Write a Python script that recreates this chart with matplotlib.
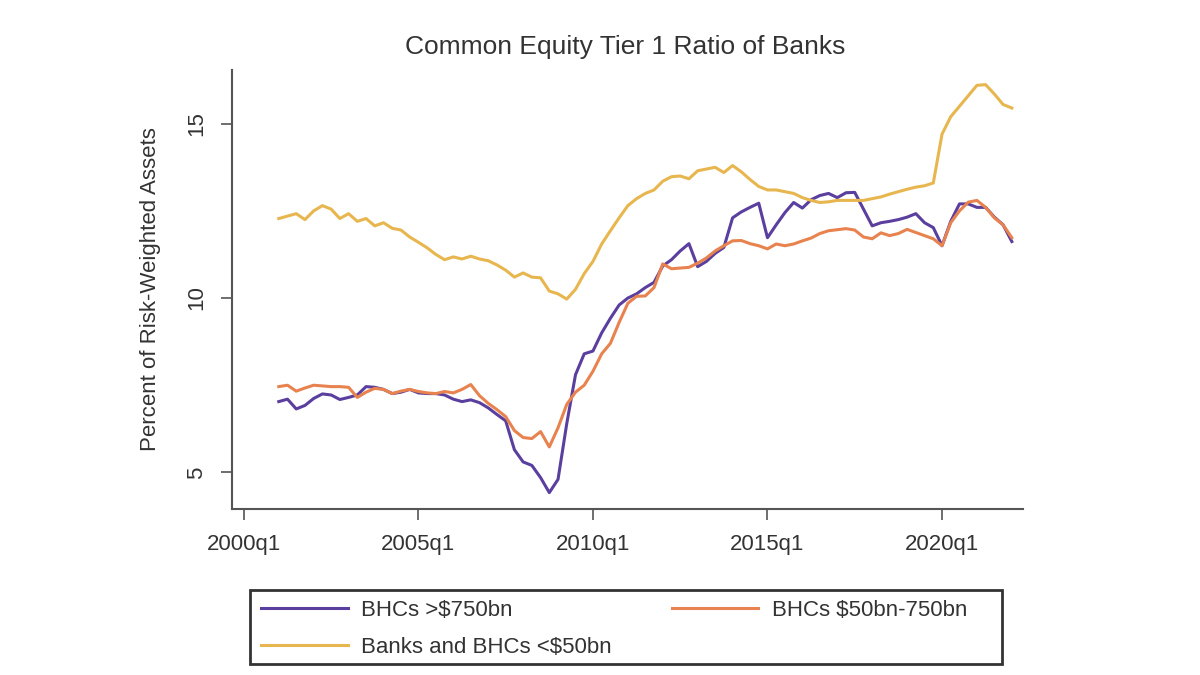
import matplotlib
matplotlib.use('Agg')
import matplotlib.pyplot as plt
from matplotlib.patches import Rectangle
import numpy as np

# quarterly, 2001q1 .. 2022q1
start_year = 2001

big_bhcs = [
    7.03, 7.10, 6.82, 6.92,  7.12, 7.25, 7.22, 7.09,  7.15, 7.22, 7.46, 7.44,
    7.38, 7.26, 7.30, 7.38,  7.28, 7.26, 7.26, 7.22,  7.10, 7.03, 7.08, 7.00,
    6.85, 6.66, 6.48, 5.65,  5.30, 5.20, 4.85, 4.42,  4.80, 6.40, 7.80, 8.40,
    8.48, 9.00, 9.42, 9.80,  10.00, 10.12, 10.30, 10.45,  10.92, 11.10, 11.35, 11.56,
    10.90, 11.05, 11.28, 11.45,  12.30, 12.47, 12.60, 12.72,  11.73, 12.10, 12.45, 12.74,
    12.58, 12.82, 12.94, 13.00,  12.88, 13.02, 13.03, 12.55,  12.07, 12.16, 12.20, 12.25,
    12.32, 12.42, 12.16, 12.02,  11.50, 12.20, 12.70, 12.70,  12.60, 12.60, 12.32, 12.10,
    11.62,
]

mid_bhcs = [
    7.46, 7.50, 7.33, 7.42,  7.50, 7.48, 7.46, 7.46,  7.44, 7.15, 7.30, 7.41,
    7.38, 7.26, 7.33, 7.38,  7.32, 7.28, 7.26, 7.32,  7.28, 7.38, 7.52, 7.20,
    6.98, 6.80, 6.60, 6.20,  6.00, 5.97, 6.17, 5.73,  6.28, 6.95, 7.30, 7.50,
    7.90, 8.40, 8.70, 9.30,  9.85, 10.05, 10.06, 10.30,  10.98, 10.84, 10.86, 10.88,
    11.00, 11.15, 11.35, 11.50,  11.64, 11.65, 11.56, 11.50,  11.41, 11.55, 11.50, 11.55,
    11.64, 11.72, 11.85, 11.93,  11.96, 11.99, 11.95, 11.75,  11.70, 11.87, 11.79, 11.85,
    11.97, 11.88, 11.79, 11.70,  11.50, 12.16, 12.50, 12.75,  12.80, 12.60, 12.30, 12.10,
    11.73,
]

small_banks = [
    12.28, 12.35, 12.42, 12.25,  12.50, 12.65, 12.55, 12.28,  12.42, 12.20, 12.28, 12.07,
    12.16, 12.00, 11.95, 11.75,  11.60, 11.44, 11.25, 11.10,  11.18, 11.12, 11.20, 11.12,
    11.07, 10.95, 10.80, 10.60,  10.72, 10.60, 10.58, 10.20,  10.12, 9.97, 10.25, 10.70,
    11.05, 11.55, 11.93, 12.30,  12.65, 12.85, 13.00, 13.10,  13.35, 13.48, 13.50, 13.42,
    13.65, 13.70, 13.75, 13.60,  13.80, 13.62, 13.40, 13.20,  13.10, 13.10, 13.05, 13.00,
    12.88, 12.80, 12.74, 12.76,  12.80, 12.80, 12.80, 12.80,  12.85, 12.90, 12.98, 13.05,
    13.12, 13.18, 13.22, 13.30,  14.70, 15.20, 15.50, 15.80,  16.10, 16.12, 15.85, 15.55,
    15.45,
]

labels = ['BHCs >$750bn', 'BHCs $50bn-750bn', 'Banks and BHCs <$50bn']
colors = ['#5b3f9e', '#e8834f', '#e8b64e']

tick_years = [2000, 2005, 2010, 2015, 2020]
tick_labels = [f"{y}q1" for y in tick_years]

plt.rcParams['font.family'] = ['Liberation Sans', 'DejaVu Sans']
text_col = '#333333'

fig = plt.figure(figsize=(12, 6.75), dpi=100)
ax = fig.add_axes([232/1200, 1 - 509/675, (1023 - 232)/1200, (509 - 70)/675])

x = start_year + np.arange(len(big_bhcs)) / 4
ax.plot(x, big_bhcs, color=colors[0], lw=2.2)
ax.plot(x, mid_bhcs, color=colors[1], lw=2.2)
ax.plot(x, small_banks, color=colors[2], lw=2.2)

ax.set_xlim(1999.66, 2022.32)
ax.set_ylim(3.95, 16.54)
ax.set_xticks(tick_years)
ax.set_xticklabels(tick_labels)
ax.set_yticks([5, 10, 15])
ax.set_yticklabels(['5', '10', '15'], rotation=90, va='center')

for side in ['top', 'right']:
    ax.spines[side].set_visible(False)
for side in ['left', 'bottom']:
    ax.spines[side].set_color('#555555')
    ax.spines[side].set_linewidth(1.5)
ax.tick_params(axis='both', length=8, width=1.2, color='#555555',
               labelsize=16, labelcolor=text_col, pad=10)

ax.set_ylabel('Percent of Risk-Weighted Assets', fontsize=16, color=text_col, labelpad=18)
fig.text(625/1200, 1 - 47/675, 'Common Equity Tier 1 Ratio of Banks',
         ha='center', va='center', fontsize=19, color=text_col)

# legend box drawn separately so the columns can sit where the reference has them
fig.patches.append(Rectangle((250/1200, 1 - 664/675), 752/1200, 74/675,
                             transform=fig.transFigure, fill=False,
                             edgecolor='#333333', linewidth=2))
h = ax.get_lines()
leg = fig.legend([h[0], h[2], h[1]], [labels[0], labels[2], labels[1]],
                 ncol=2, loc='upper left', frameon=False,
                 bbox_to_anchor=(261/1200, 1 - 600/675),
                 borderaxespad=0, borderpad=0, fontsize=16,
                 handlelength=3.9, handletextpad=0.6, columnspacing=2.7,
                 labelspacing=0.7)
for t in leg.get_texts():
    t.set_color(text_col)

fig.savefig('out.png', dpi=100)
